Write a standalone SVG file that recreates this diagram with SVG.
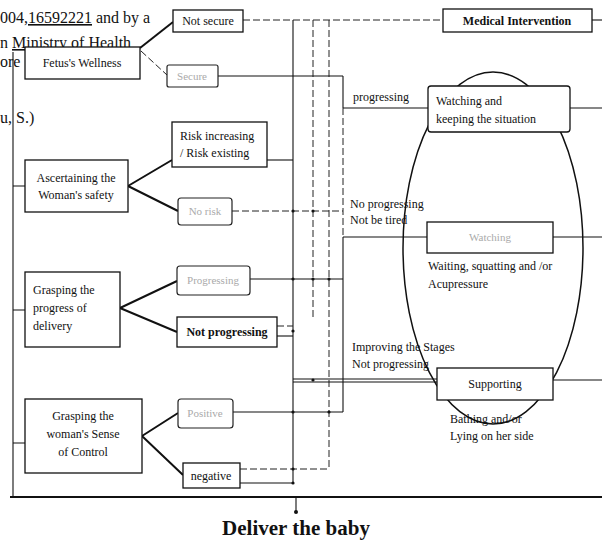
<svg xmlns="http://www.w3.org/2000/svg" width="602" height="549" viewBox="0 0 602 549">
<style>
.bx{fill:#fff;stroke:#111;stroke-width:1.3}
.fb{fill:#fff;stroke:#222;stroke-width:1.2}
.t{font-family:"Liberation Serif","Times New Roman",serif;font-size:12px;fill:#111}
.tf{font-family:"Liberation Serif","Times New Roman",serif;font-size:11px;fill:#aaa}
.tb{font-family:"Liberation Serif","Times New Roman",serif;font-size:12px;font-weight:bold;fill:#111}
.hd{font-family:"Liberation Serif","Times New Roman",serif;font-size:16px;fill:#111}
.ln{fill:none;stroke:#111;stroke-width:1.1}
.dl{fill:none;stroke:#222;stroke-width:1;stroke-dasharray:7 3}
.th{fill:none;stroke:#111;stroke-width:2}
.dt{fill:#111}
</style>

<!-- clipped page text -->
<g id="page-text">
<text class="hd" x="0" y="23">004,<tspan text-decoration="underline">16592221</tspan> and by a</text>
<text class="hd" x="0" y="48">n <tspan text-decoration="underline">Ministry of Health</tspan></text>
<text class="hd" x="0" y="67">ore</text>
<text class="hd" x="0" y="123">u, S.)</text>
</g>

<g id="connectors">
<!-- left bus and bottom -->
<path class="ln" d="M13 52 V497" stroke-width="1.6"/>
<path class="th" d="M10 497 H602" stroke-width="2.6"/>
<path class="ln" d="M296 497 V512"/>
<circle class="dt" cx="296" cy="512" r="2"/>
<path class="ln" d="M13 186 H25 M13 310 H25 M13 443 H25"/>
<!-- diagonals -->
<path class="th" d="M140 48 L173 22"/>
<path class="dl" d="M141 51 L167 75" stroke="#999" stroke-dasharray="2 3"/>
<path class="th" d="M128 186 L172 160 M128 186 L178 211"/>
<path class="th" d="M120 308 L177 281 M120 308 L177 332"/>
<path class="th" d="M142 436 L178 413 M142 436 L183 475"/>
<!-- right side verticals -->
<path class="ln" d="M293 20 V483"/>
<path class="dl" d="M313 20 V318"/>
<path class="dl" d="M329 20 V469"/>
<path class="ln" d="M343 76 V108"/>
<path class="dl" d="M343 108 V237"/>
<path class="ln" d="M343 237 V412"/>
<!-- horizontals -->
<path class="dl" d="M243 20 H443" stroke-dasharray="40 4 20 4"/>
<path class="ln" d="M592 20 H602"/>
<path class="ln" d="M218 76 H343"/>
<path class="ln" d="M343 108 H428 M570 108 H602"/>
<path class="ln" d="M267 160 H293"/>
<path class="dl" d="M232 211 H343"/>
<path class="ln" d="M343 237 H427 M553 237 H602"/>
<path class="ln" d="M250 279 H343"/>
<path class="dl" d="M277 326 H293"/>
<path class="ln" d="M277 336 H293"/>
<path class="ln" d="M293 379 H437 M293 382 H437"/>
<path class="ln" d="M553 380 H602"/>
<path class="ln" d="M233 412 H343"/>
<path class="dl" d="M240 469 H329"/>
<path class="ln" d="M240 483 H293"/>
<!-- junction dots -->
<circle class="dt" cx="293" cy="211" r="1.6"/>
<circle class="dt" cx="313" cy="211" r="1.6"/>
<circle class="dt" cx="293" cy="279" r="1.6"/>
<circle class="dt" cx="313" cy="279" r="1.6"/>
<circle class="dt" cx="329" cy="279" r="1.6"/>
<circle class="dt" cx="293" cy="331" r="1.6"/>
<circle class="dt" cx="313" cy="380" r="1.6"/>
<circle class="dt" cx="293" cy="412" r="1.6"/>
<circle class="dt" cx="329" cy="412" r="1.6"/>
<circle class="dt" cx="293" cy="469" r="1.6"/>
<circle class="dt" cx="293" cy="483" r="1.6"/>
</g>

<!-- ellipse -->
<ellipse id="ellipse" cx="493" cy="248" rx="90" ry="176" fill="none" stroke="#111" stroke-width="1.5"/>

<g id="n-fetus"><rect class="bx" x="25" y="47" width="115" height="32"/><text class="t" x="82" y="67" text-anchor="middle">Fetus's Wellness</text></g>
<g id="n-notsecure"><rect class="bx" x="173" y="10" width="70" height="22"/><text class="t" x="208" y="25" text-anchor="middle">Not secure</text></g>
<g id="n-secure"><rect class="fb" x="167" y="65" width="51" height="22" rx="2"/><text class="tf" x="192" y="80" text-anchor="middle">Secure</text></g>
<g id="n-medical"><rect class="bx" x="443" y="9" width="149" height="23"/><text class="tb" x="517" y="25" text-anchor="middle" font-size="13">Medical Intervention</text></g>

<g id="n-safety"><rect class="bx" x="25" y="160" width="103" height="52"/><text class="t" x="76" y="182" text-anchor="middle">Ascertaining the</text><text class="t" x="76" y="199" text-anchor="middle">Woman's safety</text></g>
<g id="n-risk"><rect class="bx" x="172" y="122" width="95" height="45"/><text class="t" x="180" y="140">Risk increasing</text><text class="t" x="180" y="157">/ Risk existing</text></g>
<g id="n-norisk"><rect class="fb" x="178" y="198" width="54" height="27" rx="3"/><text class="tf" x="205" y="215" text-anchor="middle">No risk</text></g>

<g id="n-progress"><rect class="bx" x="25" y="272" width="95" height="75"/><text class="t" x="33" y="294">Grasping the</text><text class="t" x="33" y="312">progress of</text><text class="t" x="33" y="330">delivery</text></g>
<g id="n-progressing"><rect class="fb" x="177" y="266" width="73" height="29" rx="3"/><text class="tf" x="213" y="284" text-anchor="middle">Progressing</text></g>
<g id="n-notprog"><rect class="bx" x="177" y="317" width="100" height="30" stroke-width="1.8"/><text class="tb" x="227" y="336" text-anchor="middle">Not progressing</text></g>

<g id="n-control"><rect class="bx" x="25" y="399" width="117" height="74"/><text class="t" x="83" y="420" text-anchor="middle">Grasping the</text><text class="t" x="83" y="438" text-anchor="middle">woman's Sense</text><text class="t" x="83" y="456" text-anchor="middle">of Control</text></g>
<g id="n-positive"><rect class="fb" x="178" y="399" width="55" height="29" rx="3"/><text class="tf" x="205" y="417" text-anchor="middle">Positive</text></g>
<g id="n-negative"><rect class="bx" x="183" y="463" width="57" height="25"/><text class="t" x="211" y="480" text-anchor="middle">negative</text></g>

<g id="n-watching"><rect class="bx" x="428" y="86" width="142" height="46" rx="3"/><text class="t" x="436" y="105">Watching and</text><text class="t" x="436" y="123">keeping the situation</text></g>
<g id="n-wait"><rect class="bx" x="427" y="222" width="126" height="31"/><text class="tf" x="490" y="241" text-anchor="middle">Watching</text></g>
<g id="n-support"><rect class="bx" x="437" y="368" width="116" height="32" stroke-width="1.6"/><text class="t" x="495" y="388" text-anchor="middle">Supporting</text></g>

<g id="labels">
<text class="t" x="353" y="101">progressing</text>
<text class="t" x="350" y="208">No progressing</text>
<text class="t" x="350" y="224">Not be tired</text>
<text class="t" x="428" y="270">Waiting, squatting and /or</text>
<text class="t" x="428" y="288">Acupressure</text>
<text class="t" x="352" y="351">Improving the Stages</text>
<text class="t" x="352" y="368">Not progressing</text>
<text class="t" x="450" y="423">Bathing and/or</text>
<text class="t" x="450" y="440">Lying on her side</text>
</g>

<g id="n-deliver"><text x="296" y="535" text-anchor="middle" font-family="Liberation Serif, Times New Roman, serif" font-size="21" font-weight="bold" fill="#111">Deliver the baby</text></g>
</svg>
